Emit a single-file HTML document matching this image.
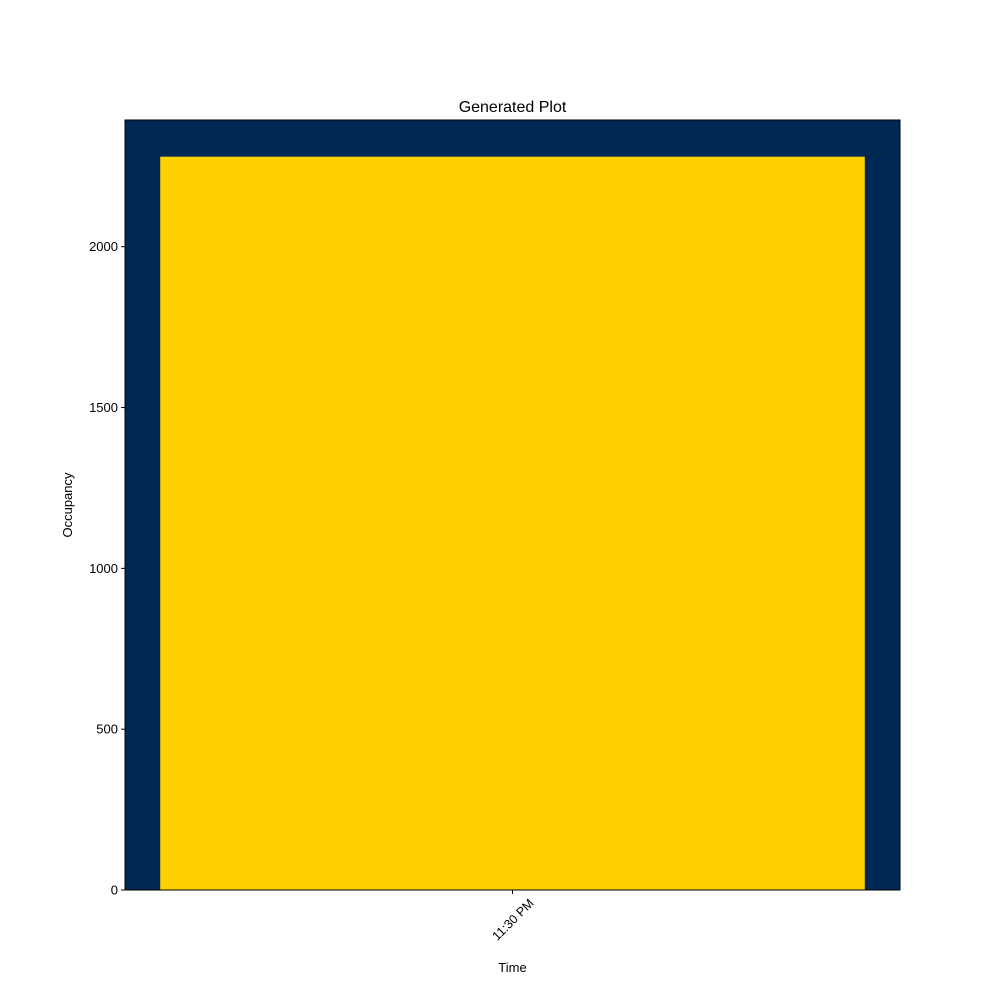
<!DOCTYPE html>
<html><head><meta charset="utf-8"><style>body{margin:0;background:#fff}svg{display:block;font-family:"Liberation Sans","DejaVu Sans",sans-serif}</style></head>
<body>
<svg id="chart" width="1000" height="1000">
<rect width="1000" height="1000" fill="#fff"/>
<text x="512.5" y="112" text-anchor="middle" font-size="16">Generated Plot</text>
<text x="512.5" y="972" text-anchor="middle" font-size="13">Time</text>
<text transform="translate(72,505) rotate(-90)" text-anchor="middle" font-size="13">Occupancy</text>
<g id="plot"></g>
</svg>
<script>
const categories = ["11:30 PM"];
const occupancy = [2280];
const yTicks = [0, 500, 1000, 1500, 2000];
const L=125,R=900,T=120,B=890;
const ymax = Math.max(...occupancy)*1.05;
const y = v => B - v/ymax*(B-T);
const n = categories.length;
const xmin=-0.44, xmax=n-1+0.44;
const x = v => L + (v-xmin)/(xmax-xmin)*(R-L);
const g=document.getElementById('plot');
const NS='http://www.w3.org/2000/svg';
function mk(t,a){const e=document.createElementNS(NS,t);for(const k in a)e.setAttribute(k,a[k]);g.appendChild(e);return e;}
const bg=mk('rect',{x:L,y:T,width:R-L,height:B-T,fill:'#002855'});


categories.forEach((c,i)=>{
  const b=mk('rect',{x:x(i-0.4),y:y(occupancy[i]),width:x(i+0.4)-x(i-0.4),height:B-y(occupancy[i]),fill:'#FFD100'});
  
  
  const tk=mk('line',{x1:x(i),x2:x(i),y1:B,y2:B+4,stroke:'#000'});
  
  
  const t=mk('text',{transform:`translate(${x(i)+22},${B+14}) rotate(-45)`,'text-anchor':'end','font-size':'12.5'});
  t.textContent=c;
  
  
});
yTicks.forEach(v=>{
  const tk=mk('line',{x1:L-4,x2:L,y1:y(v),y2:y(v),stroke:'#000'});
  
  
  const t=mk('text',{x:L-7,y:y(v)+4.5,'text-anchor':'end','font-size':'13'});
  t.textContent=v;
  
  
});
const fr=mk('rect',{x:L,y:T,width:R-L,height:B-T,fill:'none',stroke:'#000','stroke-width':1});


</script>
</body></html>
